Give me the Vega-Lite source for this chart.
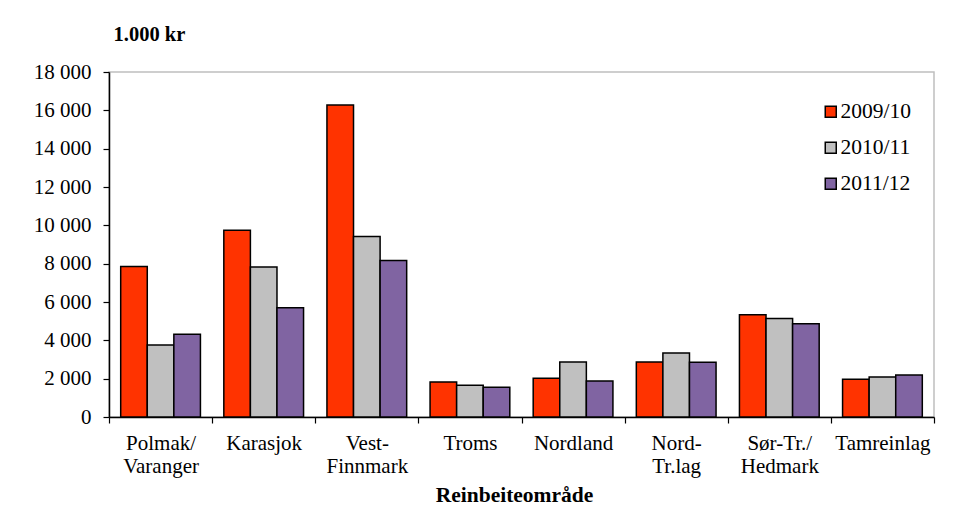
{
  "$schema": "https://vega.github.io/schema/vega-lite/v6.json",
  "autosize": "none",
  "width": 825,
  "height": 345,
  "padding": {"left": 109, "top": 72, "right": 46, "bottom": 102},
  "background": "white",
  "config": {
    "locale": {"number": {"decimal": ",", "thousands": " ", "grouping": [3], "currency": ["", " kr"]}},
    "font": "Liberation Serif",
    "view": {"stroke": "#BFBFBF", "strokeWidth": 1.5}
  },
  "data": {
    "values": [
      {"omrade": "Polmak/Varanger", "aar": "2009/10", "verdi": 7850},
      {"omrade": "Polmak/Varanger", "aar": "2010/11", "verdi": 3760},
      {"omrade": "Polmak/Varanger", "aar": "2011/12", "verdi": 4320},
      {"omrade": "Karasjok", "aar": "2009/10", "verdi": 9750},
      {"omrade": "Karasjok", "aar": "2010/11", "verdi": 7820},
      {"omrade": "Karasjok", "aar": "2011/12", "verdi": 5700},
      {"omrade": "Vest-Finnmark", "aar": "2009/10", "verdi": 16280},
      {"omrade": "Vest-Finnmark", "aar": "2010/11", "verdi": 9420},
      {"omrade": "Vest-Finnmark", "aar": "2011/12", "verdi": 8170},
      {"omrade": "Troms", "aar": "2009/10", "verdi": 1830},
      {"omrade": "Troms", "aar": "2010/11", "verdi": 1660},
      {"omrade": "Troms", "aar": "2011/12", "verdi": 1550},
      {"omrade": "Nordland", "aar": "2009/10", "verdi": 2020},
      {"omrade": "Nordland", "aar": "2010/11", "verdi": 2870},
      {"omrade": "Nordland", "aar": "2011/12", "verdi": 1880},
      {"omrade": "Nord-Tr.lag", "aar": "2009/10", "verdi": 2870},
      {"omrade": "Nord-Tr.lag", "aar": "2010/11", "verdi": 3340},
      {"omrade": "Nord-Tr.lag", "aar": "2011/12", "verdi": 2860},
      {"omrade": "Sør-Tr./Hedmark", "aar": "2009/10", "verdi": 5340},
      {"omrade": "Sør-Tr./Hedmark", "aar": "2010/11", "verdi": 5140},
      {"omrade": "Sør-Tr./Hedmark", "aar": "2011/12", "verdi": 4860},
      {"omrade": "Tamreinlag", "aar": "2009/10", "verdi": 1970},
      {"omrade": "Tamreinlag", "aar": "2010/11", "verdi": 2090},
      {"omrade": "Tamreinlag", "aar": "2011/12", "verdi": 2190}
    ]
  },
  "mark": {"type": "bar", "stroke": "black", "strokeWidth": 1.5},
  "encoding": {
    "x": {
      "field": "omrade",
      "type": "nominal",
      "sort": null,
      "scale": {"paddingInner": 0, "paddingOuter": 0},
      "axis": {
        "title": "Reinbeiteområde",
        "titleFont": "Liberation Serif",
        "titleFontSize": 21.5,
        "titleFontWeight": "bold",
        "titleColor": "black",
        "titleBaseline": "alphabetic",
        "titleAlign": "center",
        "titleX": 405,
        "titleY": 84,
        "labelAngle": 0,
        "labelFont": "Liberation Serif",
        "labelFontSize": 21,
        "labelColor": "black",
        "labelLineHeight": 23,
        "labelPadding": 9,
        "labelExpr": "datum.value == 'Polmak/Varanger' ? ['Polmak/', 'Varanger'] : datum.value == 'Vest-Finnmark' ? ['Vest-', 'Finnmark'] : datum.value == 'Nord-Tr.lag' ? ['Nord-', 'Tr.lag'] : datum.value == 'Sør-Tr./Hedmark' ? ['Sør-Tr./', 'Hedmark'] : datum.value",
        "tickBand": "extent",
        "tickSize": 6,
        "tickColor": "black",
        "tickWidth": 1.2,
        "domainColor": "black",
        "domainWidth": 1.5
      }
    },
    "xOffset": {
      "field": "aar",
      "type": "nominal",
      "scale": {"paddingInner": 0, "paddingOuter": 0.44}
    },
    "y": {
      "field": "verdi",
      "type": "quantitative",
      "scale": {"domain": [0, 18000], "nice": false},
      "axis": {
        "values": [0, 2000, 4000, 6000, 8000, 10000, 12000, 14000, 16000, 18000],
        "format": ",.0f",
        "grid": false,
        "title": "1.000 kr",
        "titleAngle": 0,
        "titleAlign": "left",
        "titleBaseline": "alphabetic",
        "titleX": 4,
        "titleY": -32,
        "titleFont": "Liberation Serif",
        "titleFontSize": 20.5,
        "titleFontWeight": "bold",
        "titleColor": "black",
        "labelFont": "Liberation Serif",
        "labelFontSize": 21,
        "labelColor": "black",
        "labelPadding": 12,
        "tickSize": 6,
        "tickColor": "black",
        "tickWidth": 1.2,
        "domainColor": "black",
        "domainWidth": 1.5
      }
    },
    "color": {
      "field": "aar",
      "type": "nominal",
      "scale": {"domain": ["2009/10", "2010/11", "2011/12"], "range": ["#FF3300", "#C0C0C0", "#8064A2"]},
      "legend": {
        "title": null,
        "orient": "none",
        "legendX": 711,
        "legendY": 29,
        "symbolType": "square",
        "symbolSize": 121,
        "symbolStrokeColor": "black",
        "symbolStrokeWidth": 1.5,
        "symbolOpacity": 1,
        "labelFont": "Liberation Serif",
        "labelFontSize": 21.5,
        "labelColor": "black",
        "labelOffset": -1,
        "rowPadding": 13
      }
    }
  }
}
